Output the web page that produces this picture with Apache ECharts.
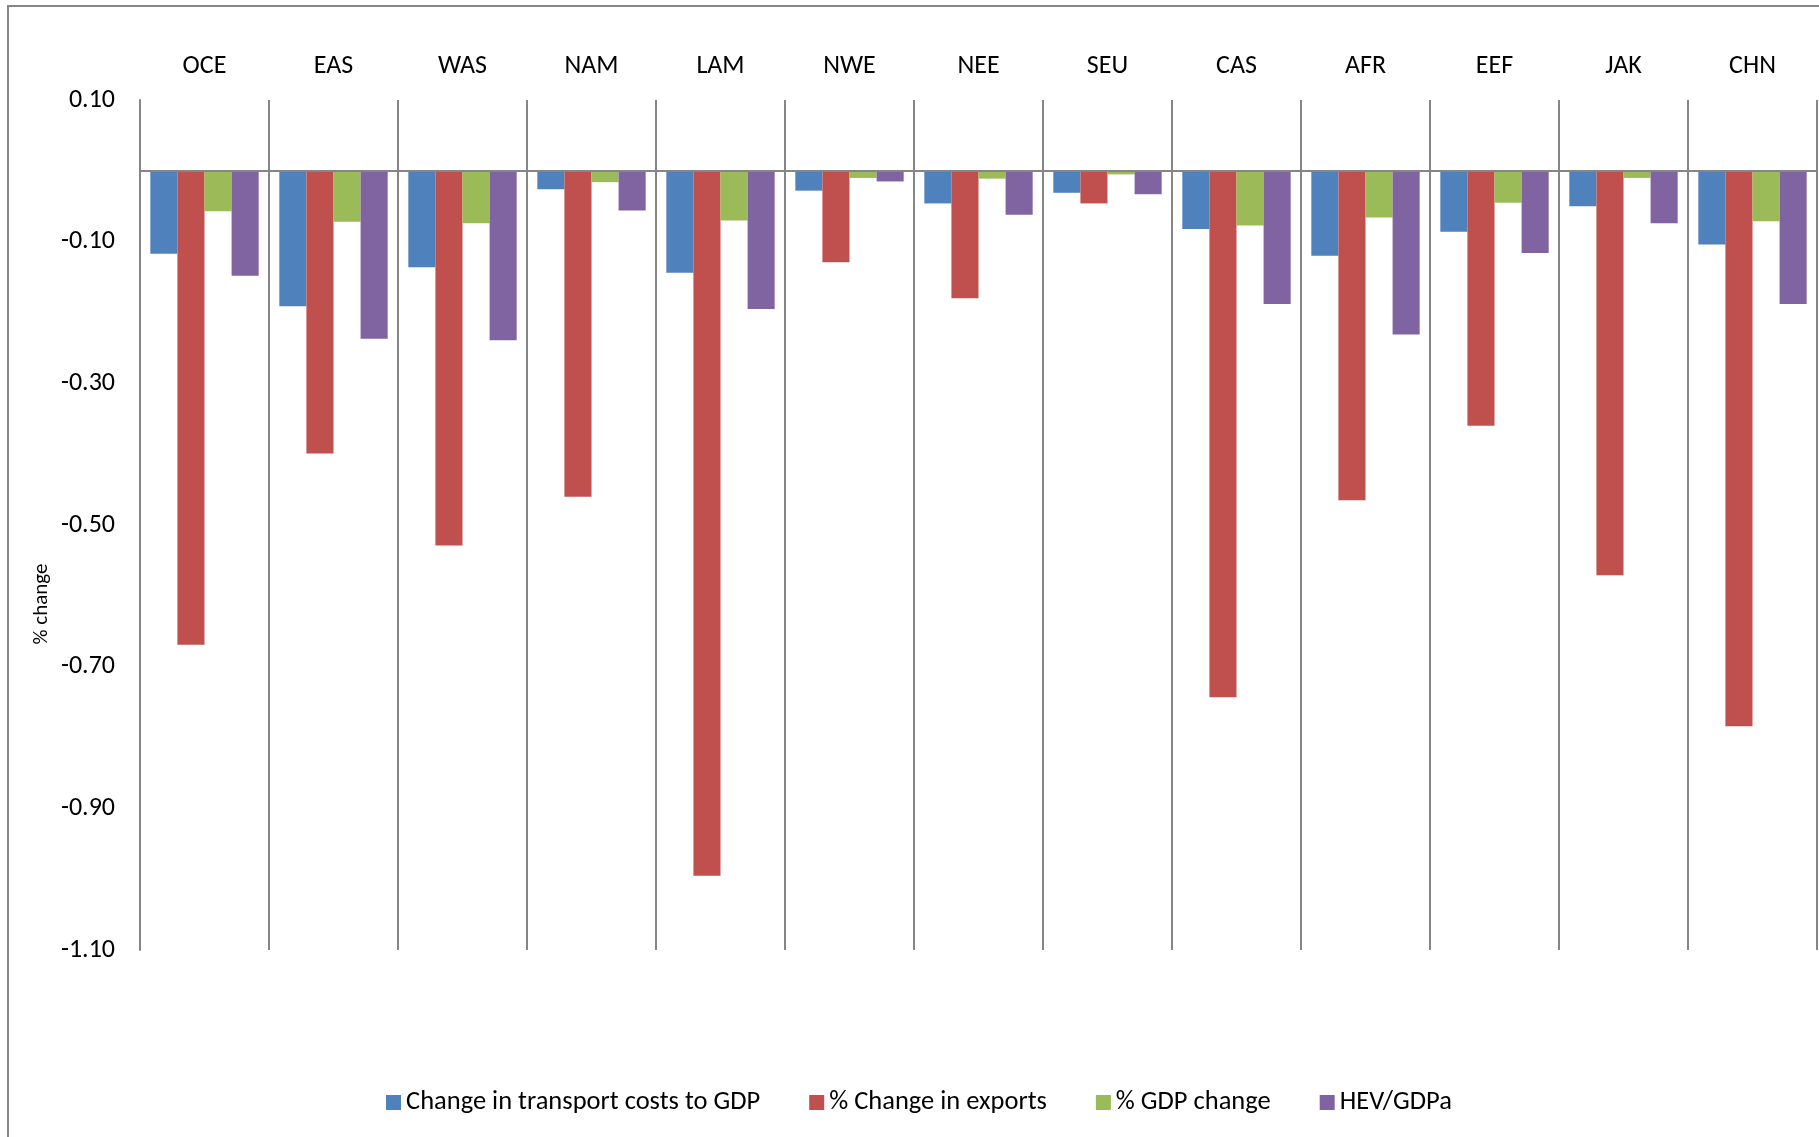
<!DOCTYPE html>
<html>
<head>
<meta charset="utf-8">
<title>% change by region</title>
<script src="https://cdn.jsdelivr.net/npm/echarts@6/dist/echarts.min.js"></script>
<style>
  html, body { margin: 0; padding: 0; background: #ffffff; }
  #chart { width: 1819px; height: 1137px; }
</style>
</head>
<body>
<div id="chart"></div>
<script>
// Regions along the category axis
const regions = ['OCE', 'EAS', 'WAS', 'NAM', 'LAM', 'NWE', 'NEE', 'SEU', 'CAS', 'AFR', 'EEF', 'JAK', 'CHN'];

// Series values (% change)
const transportCosts = [-0.117, -0.191, -0.136, -0.026, -0.144, -0.028, -0.046, -0.031, -0.082, -0.120, -0.086, -0.050, -0.104];
const exportsChange  = [-0.669, -0.399, -0.529, -0.460, -0.995, -0.129, -0.180, -0.046, -0.743, -0.465, -0.360, -0.571, -0.784];
const gdpChange      = [-0.057, -0.072, -0.074, -0.016, -0.070, -0.010, -0.011, -0.005, -0.077, -0.066, -0.045, -0.010, -0.071];
const hevGdp         = [-0.148, -0.237, -0.239, -0.056, -0.195, -0.015, -0.062, -0.033, -0.188, -0.231, -0.116, -0.074, -0.188];

const seriesNames = ['Change in transport costs to GDP', '% Change in exports', '% GDP change', 'HEV/GDPa'];
const seriesValues = [transportCosts, exportsChange, gdpChange, hevGdp];
const seriesColors = ['#4F81BD', '#C0504D', '#9BBB59', '#8064A2'];

// Value axis range and step
const yMin = -1.1, yMax = 0.1, yStep = 0.2;

const FONT = 'Carlito, Lato, "Open Sans", sans-serif';
const LINE = '#868686';

const chart = echarts.init(document.getElementById('chart'), null, { renderer: 'canvas' });

chart.setOption({
  backgroundColor: '#ffffff',
  animation: false,
  textStyle: { fontFamily: FONT, color: '#000000' },
  graphic: [
    {
      type: 'rect',
      shape: { x: 8, y: 6, width: 1860, height: 1200 },
      style: { fill: 'none', stroke: LINE, lineWidth: 2 },
      silent: true
    },
    {
      type: 'text',
      x: 42, y: 604,
      rotation: Math.PI / 2,
      style: {
        text: '% change',
        fontFamily: FONT,
        fontSize: 21,
        fill: '#000000',
        align: 'center',
        verticalAlign: 'middle'
      },
      silent: true
    }
  ],
  legend: {
    left: 381,
    top: 1084,
    itemWidth: 15,
    itemHeight: 15,
    itemGap: 49,
    icon: 'rect',
    textStyle: { fontFamily: FONT, fontSize: 26.5, color: '#000000' },
    data: seriesNames
  },
  grid: { left: 140, right: 2, top: 100, bottom: 187, containLabel: false },
  xAxis: [
    {
      type: 'category',
      data: regions,
      position: 'top',
      boundaryGap: true,
      axisLine: { show: false, onZero: false },
      axisTick: { show: false },
      axisLabel: { margin: 21, fontFamily: FONT, fontSize: 26, color: '#000000' },
      splitLine: { show: true, lineStyle: { color: LINE, width: 2 } }
    },
    {
      type: 'category',
      data: regions,
      position: 'bottom',
      z: 5,
      axisLine: { show: true, onZero: true, lineStyle: { color: LINE, width: 2 } },
      axisTick: { show: false },
      axisLabel: { show: false },
      splitLine: { show: false }
    }
  ],
  yAxis: {
    type: 'value',
    min: yMin,
    max: yMax,
    interval: yStep,
    axisLine: { show: true, lineStyle: { color: LINE, width: 2 } },
    axisTick: { show: false },
    splitLine: { show: false },
    axisLabel: {
      margin: 25,
      fontFamily: FONT,
      fontSize: 26,
      color: '#000000',
      formatter: v => v.toFixed(2)
    }
  },
  series: seriesNames.map((name, i) => ({
    name: name,
    type: 'bar',
    xAxisIndex: 0,
    data: seriesValues[i],
    barGap: '0%',
    barCategoryGap: '16%',
    itemStyle: { color: seriesColors[i] }
  }))
});
</script>
</body>
</html>
